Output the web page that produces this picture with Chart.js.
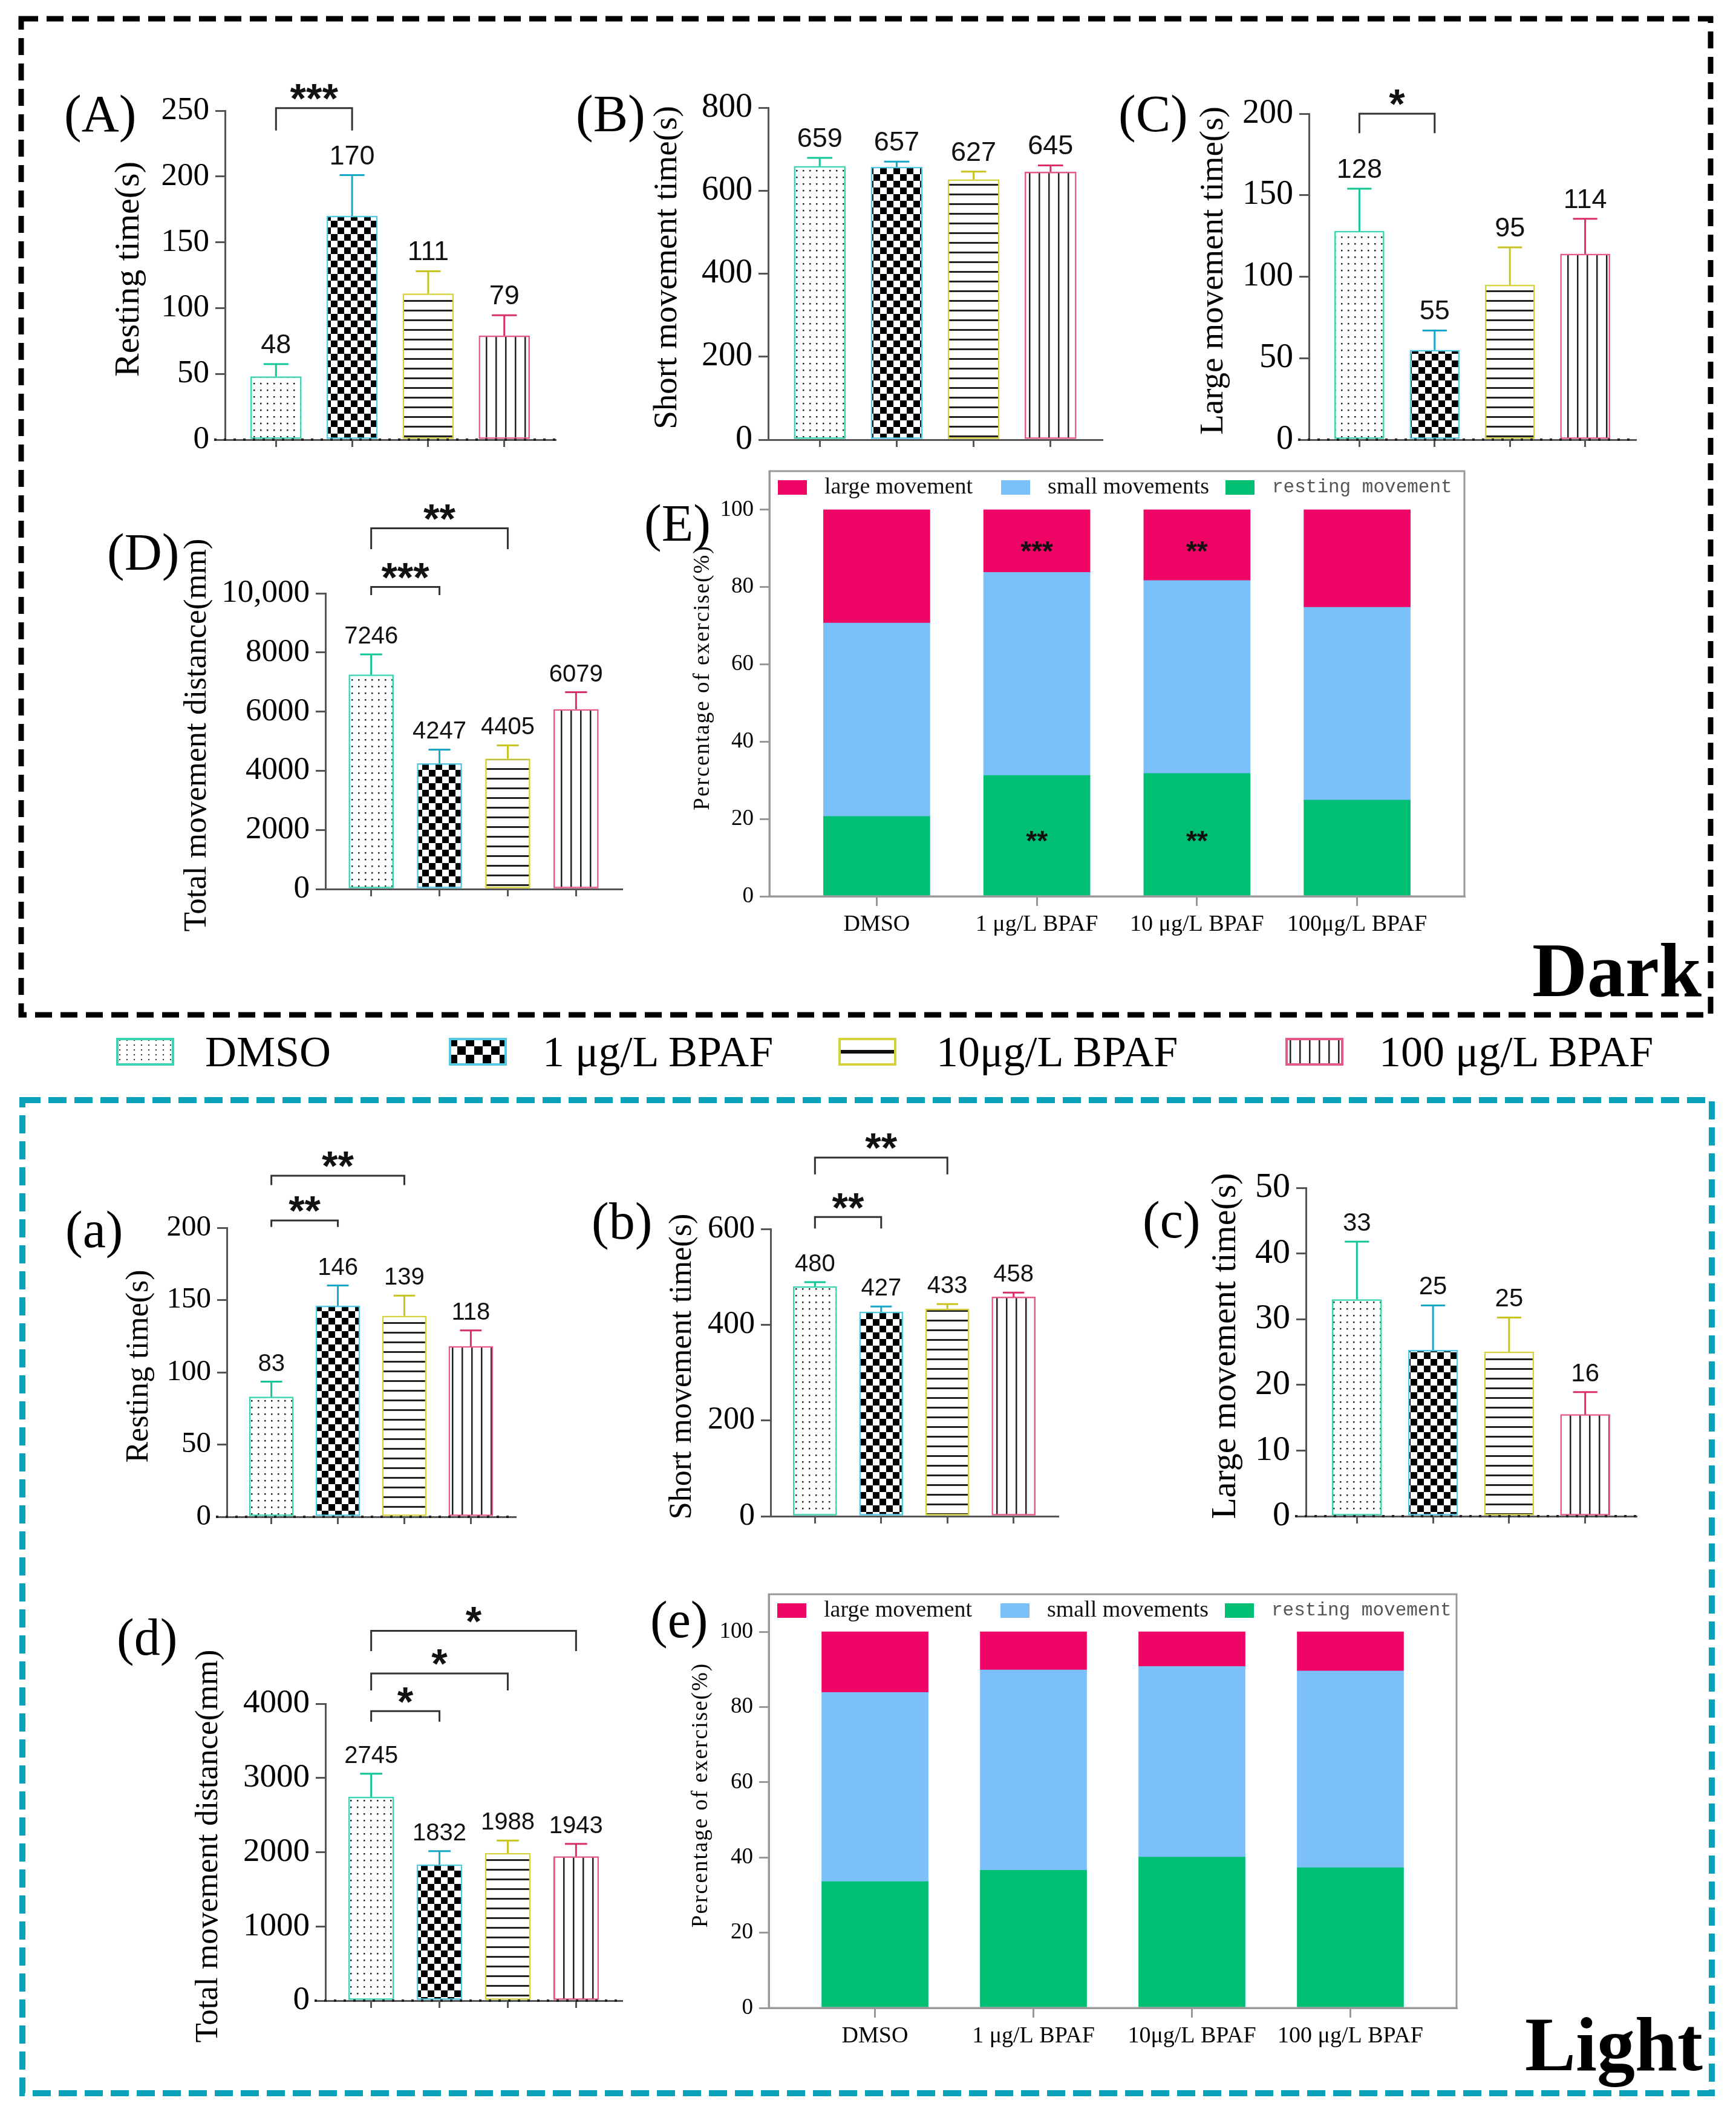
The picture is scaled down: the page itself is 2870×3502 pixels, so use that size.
<!DOCTYPE html>
<html lang="en">
<head>
<meta charset="UTF-8">
<title>BPAF locomotion, dark and light</title>
<script src="https://cdn.jsdelivr.net/npm/chart.js"></script>
<style>
  body { margin: 0; background: #fff; }
  #page { position: relative; width: 2870px; height: 3502px; overflow: hidden; background: #fff; }
  #page canvas { position: absolute; }
  .lbl { position: absolute; font-family: 'Liberation Serif', serif; line-height: 1; white-space: nowrap; color: #000; }
  .tag { font-size: 86px; }
  .big { font-size: 126px; font-weight: bold; }
  .leg { font-size: 72px; }
</style>
</head>
<body>
<div id="page">
  <svg width="2870" height="3502" style="position:absolute;left:0;top:0">
    <rect x="35" y="31" width="2793" height="1647" fill="none" stroke="#000" stroke-width="9" stroke-dasharray="28 14"/>
    <rect x="37" y="1819" width="2793" height="1642" fill="none" stroke="#0aa2b8" stroke-width="10" stroke-dasharray="30 13"/>
  </svg>
  <div class="lbl tag" style="left:106px;top:145px">(A)</div>
  <div class="lbl tag" style="left:952px;top:145px">(B)</div>
  <div class="lbl tag" style="left:1849px;top:145px">(C)</div>
  <div class="lbl tag" style="left:177px;top:870px">(D)</div>
  <div class="lbl tag" style="left:1065px;top:822px">(E)</div>
  <div class="lbl tag" style="left:108px;top:1990px">(a)</div>
  <div class="lbl tag" style="left:978px;top:1976px">(b)</div>
  <div class="lbl tag" style="left:1889px;top:1974px">(c)</div>
  <div class="lbl tag" style="left:193px;top:2664px">(d)</div>
  <div class="lbl tag" style="left:1075px;top:2635px">(e)</div>
  <div class="lbl big" style="left:2533px;top:1542px">Dark</div>
  <div class="lbl big" style="left:2521px;top:3318px">Light</div>
</div>

<script>
  // groups
  const groups = ['DMSO', '1 μg/L BPAF', '10μg/L BPAF', '100 μg/L BPAF']
  const catsDark = ['DMSO', '1 μg/L BPAF', '10 μg/L BPAF', '100μg/L BPAF']
  const catsLight = ['DMSO', '1 μg/L BPAF', '10μg/L BPAF', '100 μg/L BPAF']
  const stackNames = ['large movement', 'small movements', 'resting movement']

  // dark period
  const darkRestMean = [48, 170, 111, 79]
  const darkRestSem = [9.5, 31, 17, 15.6]
  const darkShortMean = [659, 657, 627, 645]
  const darkShortSem = [20, 13, 19, 16]
  const darkLargeMean = [128, 55, 95, 114]
  const darkLargeSem = [26, 12, 23, 21.5]
  const darkDistMean = [7246, 4247, 4405, 6079]
  const darkDistSem = [690, 468, 453, 577]
  const darkResting = [20.7, 31.3, 31.8, 24.9]
  const darkSmall = [50.0, 52.5, 49.9, 49.9]
  const darkLarge = [29.3, 16.2, 18.3, 25.2]

  // light period
  const lightRestMean = [83, 146, 139, 118]
  const lightRestSem = [10.5, 14, 14, 11]
  const lightShortMean = [480, 427, 433, 458]
  const lightShortSem = [9, 11, 10, 9]
  const lightLargeMean = [33, 25.3, 25.05, 15.5]
  const lightLargeSem = [8.8, 6.8, 5.2, 3.4]
  const lightDistMean = [2745, 1832, 1988, 1943]
  const lightDistSem = [312, 182, 168, 169]
  const lightResting = [33.6, 36.6, 40.1, 37.3]
  const lightSmall = [50.3, 53.3, 50.7, 52.3]
  const lightLarge = [16.1, 10.1, 9.2, 10.4]

  // significance brackets: [from, to, bracket level, leg end, stars]
  const darkRestSig = [[0, 1, 252, 235, '***']]
  const darkLargeSig = [[0, 1, 200, 188, '*']]
  const darkDistSig = [[0, 1, 10214, 9939, '***'], [0, 2, 12196, 11491, '**']]
  const lightRestSig = [[0, 1, 205, 200.5, '**'], [0, 2, 236, 229.5, '**']]
  const lightShortSig = [[0, 1, 625, 601, '**'], [0, 2, 749, 714, '**']]
  const lightDistSig = [[0, 1, 3900, 3758, '*'], [0, 2, 4407, 4179, '*'], [0, 3, 4982, 4709, '*']]
  // stars inside stacked bars: [bar, value, stars]
  const darkStackSig = [[1, 91, '***'], [2, 91, '**'], [1, 16, '**'], [2, 16, '**']]

  const barEdge = ['#3ad5b0', '#55c8e2', '#d3d23c', '#e6588c']
  const errColor = ['#12c596', '#16a8c6', '#c8c41e', '#d92e6a']
  const stackColor = ['#ef0566', '#7cc0fa', '#00be73']
  const axisColor = '#555'
  const serif = 'Liberation Serif'
  const sans = 'Liberation Sans'

  function tile(w, h, ink, draw) {
    const c = document.createElement('canvas')
    c.width = w
    c.height = h
    const g = c.getContext('2d')
    g.fillStyle = '#fff'
    g.fillRect(0, 0, w, h)
    g.fillStyle = ink
    draw(g)
    return c
  }

  const tiles = [
    tile(11, 11, '#222', g => g.fillRect(4, 4, 2.5, 2.5)),
    tile(22, 22, '#000', g => { g.fillRect(0, 0, 11, 11); g.fillRect(11, 11, 11, 11) }),
    tile(4, 16, '#222', g => g.fillRect(0, 6, 4, 3)),
    tile(16, 4, '#222', g => g.fillRect(7, 0, 2.5, 4))
  ]
  // legend swatches use coarser versions of the same fills
  const swatchTiles = [
    tile(12, 8, '#333', g => g.fillRect(5, 3, 2, 2)),
    tile(28, 28, '#000', g => { g.fillRect(0, 0, 14, 14); g.fillRect(14, 14, 14, 14) }),
    tile(4, 46, '#111', g => g.fillRect(0, 20, 4, 6)),
    tile(16, 4, '#222', g => g.fillRect(7, 0, 2.5, 4))
  ]

  const page = document.getElementById('page')

  function addCanvas(box) {
    const cv = document.createElement('canvas')
    cv.width = box[2] - box[0]
    cv.height = box[3] - box[1]
    cv.style.left = box[0] + 'px'
    cv.style.top = box[1] + 'px'
    page.appendChild(cv)
    return cv
  }

  const extras = {
    id: 'extras',
    afterDatasetsDraw(chart, args, opts) {
      const p = opts.panel
      const { ctx, chartArea: ca } = chart
      const x = chart.scales.x, y = chart.scales.y
      ctx.save()

      if (p.dots) {
        ctx.fillStyle = '#222'
        for (let px = ca.left - 16; px <= ca.right; px += 16) ctx.fillRect(px - 2, ca.bottom - 2, 4, 4)
      }

      if (p.stacked) {
        ctx.strokeStyle = '#999'
        ctx.lineWidth = 3
        ctx.strokeRect(ca.left, ca.top, ca.right - ca.left, ca.bottom - ca.top)
        const ly = ca.top + 27
        const sx = [14, 383, 754]
        stackNames.forEach((name, k) => {
          ctx.fillStyle = stackColor[k]
          ctx.fillRect(ca.left + sx[k], ly - 12, 48, 24)
          ctx.textAlign = 'left'
          ctx.textBaseline = 'middle'
          if (k === 2) {
            ctx.font = '31px "Liberation Mono"'
            ctx.fillStyle = '#555'
          } else {
            ctx.font = '38px "' + serif + '"'
            ctx.fillStyle = '#111'
          }
          ctx.fillText(name, ca.left + sx[k] + 77, ly)
        })
        ;(p.stars || []).forEach(([i, v, s]) => {
          ctx.font = 'bold 46px "' + sans + '"'
          ctx.fillStyle = '#111'
          ctx.textAlign = 'center'
          ctx.textBaseline = 'alphabetic'
          ctx.fillText(s, x.getPixelForValue(i), y.getPixelForValue(v) + 0.58 * 46)
        })
      }

      if (p.means) {
        const hw = p.barW * 0.245
        p.means.forEach((m, i) => {
          const cx = x.getPixelForValue(i)
          const top = y.getPixelForValue(m)
          const cap = y.getPixelForValue(m + p.errs[i])
          ctx.strokeStyle = errColor[i]
          ctx.lineWidth = 3
          ctx.beginPath()
          ctx.moveTo(cx, top)
          ctx.lineTo(cx, cap)
          ctx.moveTo(cx - hw, cap)
          ctx.lineTo(cx + hw, cap)
          ctx.stroke()
          ctx.fillStyle = '#111'
          ctx.font = p.valSize + 'px "' + sans + '"'
          ctx.textAlign = 'center'
          ctx.textBaseline = 'alphabetic'
          ctx.fillText(String(Math.round(m)), cx, cap - 18)
        })
      }

      ;(p.sig || []).forEach(([a, b, level, leg, s]) => {
        const x1 = x.getPixelForValue(a), x2 = x.getPixelForValue(b)
        const ly = y.getPixelForValue(level), le = y.getPixelForValue(leg)
        ctx.strokeStyle = '#333'
        ctx.lineWidth = 3
        ctx.beginPath()
        ctx.moveTo(x1, le)
        ctx.lineTo(x1, ly)
        ctx.lineTo(x2, ly)
        ctx.lineTo(x2, le)
        ctx.stroke()
        ctx.font = 'bold 68px "' + sans + '"'
        ctx.fillStyle = '#111'
        ctx.textAlign = 'center'
        ctx.textBaseline = 'alphabetic'
        ctx.fillText(s, (x1 + x2) / 2, ly - 32 + 0.58 * 68)
      })

      // y axis title
      ctx.translate(p.titleX - p.box[0], (ca.top + ca.bottom) / 2 + (p.titleDy || -10))
      ctx.rotate(-Math.PI / 2)
      ctx.font = p.titleSize + 'px "' + serif + '"'
      if (p.stacked) ctx.letterSpacing = '2px'
      ctx.fillStyle = '#000'
      ctx.textAlign = 'center'
      ctx.textBaseline = 'middle'
      ctx.fillText(p.title, 0, 0)
      ctx.restore()
    }
  }

  function options(p) {
    const col = p.stacked ? '#999' : axisColor
    return {
      responsive: false,
      animation: false,
      devicePixelRatio: 1,
      events: [],
      layout: { padding: { left: 0, bottom: 0, top: p.plot[1] - p.box[1], right: p.box[2] - p.plot[2] } },
      plugins: { legend: { display: false }, tooltip: { enabled: false }, extras: { panel: p } },
      scales: {
        x: {
          type: 'linear',
          min: -0.67,
          max: 3.67,
          offset: false,
          stacked: !!p.stacked,
          afterBuildTicks: s => { s.ticks = [0, 1, 2, 3].map(v => ({ value: v })) },
          afterFit: s => { s.height = p.box[3] - p.plot[3] },
          grid: { offset: false, drawOnChartArea: false, tickLength: p.stacked ? 16 : 12, color: col, lineWidth: 3 },
          border: { color: col, width: 3 },
          ticks: {
            display: !!p.cats,
            autoSkip: false,
            maxRotation: 0,
            padding: 8,
            color: '#000',
            font: { family: serif, size: 38 },
            callback: v => (p.cats ? p.cats[v] : '')
          }
        },
        y: {
          min: 0,
          max: p.yMax,
          stacked: !!p.stacked,
          afterBuildTicks: s => { s.ticks = s.ticks.filter(t => t.value <= (p.tickMax || p.yMax)) },
          afterFit: s => { s.width = p.plot[0] - p.box[0] },
          grid: { drawOnChartArea: false, tickLength: 16, color: col, lineWidth: 3 },
          border: { color: col, width: 3 },
          ticks: {
            stepSize: p.step,
            padding: 10,
            color: '#000',
            font: { family: serif, size: p.tickSize },
            callback: p.fmt || (v => String(v))
          }
        }
      }
    }
  }

  function barPanel(p) {
    const ctx = addCanvas(p.box).getContext('2d')
    const fills = tiles.map(t => ctx.createPattern(t, 'repeat'))
    new Chart(ctx, {
      type: 'bar',
      data: {
        datasets: [{
          label: p.title,
          data: p.means.map((v, i) => ({ x: i, y: v })),
          backgroundColor: fills,
          borderColor: barEdge,
          borderWidth: 2.5,
          borderSkipped: false,
          barThickness: p.barW
        }]
      },
      options: options(p),
      plugins: [extras]
    })
  }

  function stackPanel(p, resting, small, large) {
    const ctx = addCanvas(p.box).getContext('2d')
    const series = [[stackNames[2], resting, stackColor[2]], [stackNames[1], small, stackColor[1]], [stackNames[0], large, stackColor[0]]]
    new Chart(ctx, {
      type: 'bar',
      data: {
        datasets: series.map(([name, vals, color]) => ({
          label: name,
          data: vals.map((v, i) => ({ x: i, y: v })),
          backgroundColor: color,
          borderWidth: 0,
          barThickness: 176
        }))
      },
      options: options(p),
      plugins: [extras]
    })
  }

  barPanel({ box: [140, 90, 950, 790], plot: [372, 183, 918, 727], yMax: 250, step: 50, tickSize: 53,
    title: 'Resting time(s)', titleX: 214, titleSize: 58, means: darkRestMean, errs: darkRestSem,
    sig: darkRestSig, barW: 84, dots: true, valSize: 45 })
  barPanel({ box: [1070, 90, 1850, 780], plot: [1270, 178, 1822, 727], yMax: 800, step: 200, tickSize: 56,
    title: 'Short movement time(s)', titleX: 1104, titleSize: 55, means: darkShortMean, errs: darkShortSem,
    barW: 85, dots: false, valSize: 45 })
  barPanel({ box: [1960, 90, 2760, 780], plot: [2164, 188, 2704, 727], yMax: 200, step: 50, tickSize: 56,
    title: 'Large movement time(s)', titleX: 2007, titleSize: 55, means: darkLargeMean, errs: darkLargeSem,
    sig: darkLargeSig, barW: 82, dots: true, valSize: 45 })
  barPanel({ box: [280, 800, 1060, 1560], plot: [538, 981, 1028, 1470], yMax: 10000, step: 2000, tickSize: 53,
    title: 'Total movement distance(mm)', titleX: 326, titleSize: 53, means: darkDistMean, errs: darkDistSem,
    sig: darkDistSig, barW: 74, dots: false, valSize: 40,
    fmt: v => (v >= 10000 ? v.toLocaleString('en-US') : String(v)) })
  stackPanel({ box: [1120, 720, 2450, 1580], plot: [1272, 779, 2421, 1482], yMax: 110, tickMax: 100, step: 20,
    tickSize: 37, title: 'Percentage of exercise(%)', titleX: 1162, titleSize: 37, titleDy: 0,
    stacked: true, cats: catsDark, stars: darkStackSig }, darkResting, darkSmall, darkLarge)

  barPanel({ box: [180, 1860, 880, 2580], plot: [375, 2030, 852, 2508], yMax: 200, step: 50, tickSize: 49,
    title: 'Resting time(s)', titleX: 230, titleSize: 52, means: lightRestMean, errs: lightRestSem,
    sig: lightRestSig, barW: 73, dots: true, valSize: 40 })
  barPanel({ box: [1080, 1840, 1780, 2580], plot: [1274, 2032, 1749, 2507], yMax: 600, step: 200, tickSize: 52,
    title: 'Short movement time(s)', titleX: 1128, titleSize: 52, means: lightShortMean, errs: lightShortSem,
    sig: lightShortSig, barW: 72, dots: false, valSize: 40 })
  barPanel({ box: [1980, 1840, 2740, 2580], plot: [2159, 1964, 2705, 2507], yMax: 50, step: 10, tickSize: 58,
    title: 'Large movement time(s)', titleX: 2027, titleSize: 58, means: lightLargeMean, errs: lightLargeSem,
    barW: 82, dots: true, valSize: 42 })
  barPanel({ box: [300, 2620, 1060, 3420], plot: [538, 2817, 1028, 3308], yMax: 4000, step: 1000, tickSize: 55,
    title: 'Total movement distance(mm)', titleX: 345, titleSize: 53, means: lightDistMean, errs: lightDistSem,
    sig: lightDistSig, barW: 75, dots: true, valSize: 40 })
  stackPanel({ box: [1110, 2580, 2440, 3420], plot: [1271, 2636, 2408, 3320], yMax: 110, tickMax: 100, step: 20,
    tickSize: 37, title: 'Percentage of exercise(%)', titleX: 1159, titleSize: 37, titleDy: 0,
    stacked: true, cats: catsLight }, lightResting, lightSmall, lightLarge)

  // shared legend between the two boxes
  const legLeft = [192, 742, 1386, 2125]
  const legText = [339, 897, 1548, 2280]
  groups.forEach((name, i) => {
    const sw = addCanvas([legLeft[i], 1716, legLeft[i] + 96, 1762])
    const g = sw.getContext('2d')
    g.fillStyle = g.createPattern(swatchTiles[i], 'repeat')
    g.fillRect(0, 0, 96, 46)
    g.strokeStyle = barEdge[i]
    g.lineWidth = 4
    g.strokeRect(2, 2, 92, 42)
    const d = document.createElement('div')
    d.className = 'lbl leg'
    d.style.left = legText[i] + 'px'
    d.style.top = '1703px'
    d.textContent = name
    page.appendChild(d)
  })
</script>
</body>
</html>
